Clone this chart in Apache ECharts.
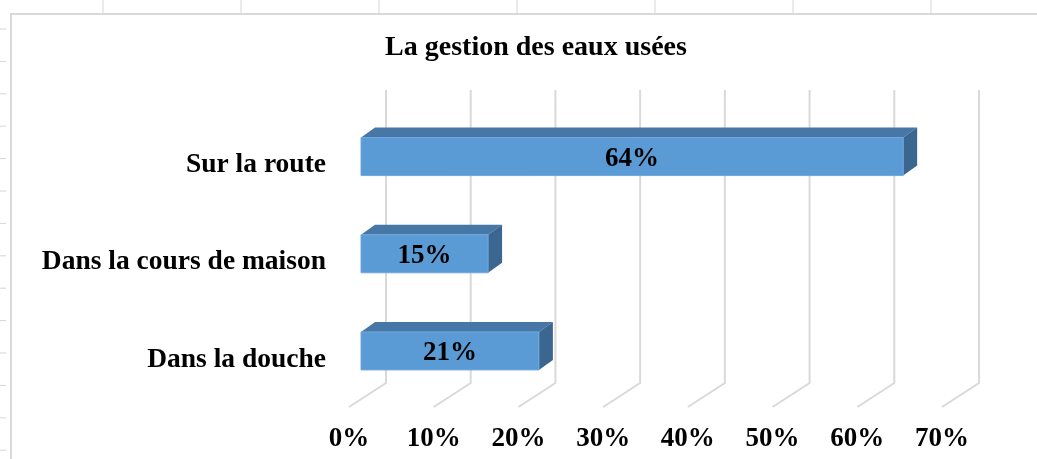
<!DOCTYPE html>
<html>
<head>
<meta charset="utf-8">
<script src="https://cdn.jsdelivr.net/npm/echarts@6/dist/echarts.min.js"></script>
<style>
  html, body { margin: 0; padding: 0; background: #fff; }
  #chart { width: 1037px; height: 459px; }
</style>
</head>
<body>
<div id="chart"></div>
<script>
// data
const categories = ['Dans la douche', 'Dans la cours de maison', 'Sur la route']
const values = [21, 15, 64]
const ticks = [0, 10, 20, 30, 40, 50, 60, 70]
const titleText = 'La gestion des eaux usées'

const serif = '"Liberation Serif", "Times New Roman", serif'
const depthX = 14, depthY = 10   // bar depth
const barH = 38

const chart = echarts.init(document.getElementById('chart'))

// faint spreadsheet cell lines around the chart frame
let sheetLines = []
for (let x = 103; x < 1037; x += 138) {
  sheetLines.push({ type: 'line', shape: { x1: x, y1: 0, x2: x, y2: 13 }, style: { stroke: '#d6d6d6', lineWidth: 1 } })
}
for (let y = 29; y < 459; y += 32.4) {
  sheetLines.push({ type: 'line', shape: { x1: 0, y1: y, x2: 6, y2: y }, style: { stroke: '#d6d6d6', lineWidth: 1 } })
}

chart.setOption({
  animation: false,
  title: {
    text: titleText,
    left: 531,
    top: 29,
    textAlign: 'center',
    textStyle: { fontFamily: serif, fontWeight: 'bold', fontSize: 28, color: '#000' }
  },
  graphic: sheetLines.concat([{
    type: 'rect',
    shape: { x: 11, y: 14, width: 1040, height: 460 },
    style: { fill: 'none', stroke: '#d9d9d9', lineWidth: 2 },
    z: -10
  }]),
  grid: { left: 361, top: 108, width: 593, height: 291.5 },
  xAxis: {
    type: 'value',
    min: 0,
    max: 70,
    interval: 10,
    axisLine: { show: false },
    axisTick: { show: false },
    splitLine: { show: false },
    axisLabel: {
      formatter: '{value}%',
      margin: 26,
      padding: [0, 24, 0, 0],
      fontFamily: serif,
      fontWeight: 'bold',
      fontSize: 27,
      color: '#000'
    }
  },
  yAxis: {
    type: 'category',
    data: categories,
    axisLine: { show: false },
    axisTick: { show: false },
    axisLabel: {
      margin: 35,
      verticalAlign: 'top',
      lineHeight: 17,
      fontFamily: serif,
      fontWeight: 'bold',
      fontSize: 27.5,
      color: '#000'
    }
  },
  series: [
    {
      // back wall / floor grid lines
      type: 'custom',
      z: 1,
      data: ticks.map(t => [t, 0]),
      encode: { x: 0, y: 1 },
      renderItem: function (params, api) {
        const cs = params.coordSys
        const x = api.coord([api.value(0), 0])[0]
        const bottom = cs.y + cs.height
        return {
          type: 'polyline',
          shape: { points: [[x + 25, cs.y - 18], [x + 25, bottom - 16.5], [x - 12, bottom + 7.5]] },
          style: { stroke: '#d9d9d9', lineWidth: 2, fill: null }
        }
      }
    },
    {
      // 3d bars
      type: 'custom',
      z: 5,
      data: values.map((v, i) => [v, i]),
      encode: { x: 0, y: 1 },
      renderItem: function (params, api) {
        const p0 = api.coord([0, api.value(1)])
        const p1 = api.coord([api.value(0), api.value(1)])
        const x0 = p0[0], x1 = p1[0], yc = p1[1]
        const yt = yc - barH / 2, yb = yc + barH / 2
        return {
          type: 'group',
          children: [
            {
              type: 'polygon',
              shape: { points: [[x0, yt], [x0 + depthX, yt - depthY], [x1 + depthX, yt - depthY], [x1, yt]] },
              style: { fill: '#4677a6' }
            },
            {
              type: 'polygon',
              shape: { points: [[x1, yt], [x1 + depthX, yt - depthY], [x1 + depthX, yb - depthY], [x1, yb]] },
              style: { fill: '#3b6690' }
            },
            {
              type: 'rect',
              shape: { x: x0, y: yt, width: x1 - x0, height: barH },
              style: { fill: '#5b9bd5', stroke: '#6fa8dc', lineWidth: 1 }
            },
            {
              type: 'text',
              style: {
                text: api.value(0) + '%',
                x: (x0 + x1) / 2,
                y: yc + 2,
                align: 'center',
                verticalAlign: 'middle',
                fontFamily: serif,
                fontWeight: 'bold',
                fontSize: 27,
                fill: '#000'
              }
            }
          ]
        }
      }
    }
  ]
})
</script>
</body>
</html>
